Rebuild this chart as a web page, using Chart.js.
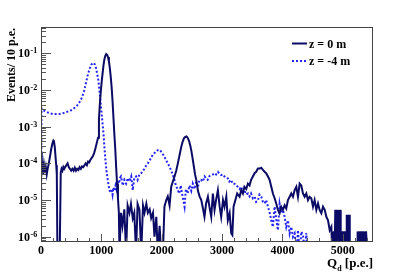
<!DOCTYPE html>
<html>
<head>
<meta charset="utf-8">
<script src="https://cdn.jsdelivr.net/npm/chart.js@4.4.0/dist/chart.umd.min.js"></script>
<style>
  html, body { margin: 0; padding: 0; background: #fff; }
  #wrap { width: 415px; height: 276px; }
</style>
</head>
<body>
<div id="wrap"><canvas id="qdChart" width="415" height="276"></canvas></div>
<script>
// ========== Data (Events / 10 p.e.) ==========
// z = 0 m
const solidQ = [
  0, 12, 25, 38, 50, 65, 80, 95, 110, 130,
  150, 170, 190, 205, 215, 228, 240, 252, 262, 272,
  290, 310, 327, 340, 355, 370, 385, 400, 420, 440,
  460, 480, 500, 520, 540, 560, 580, 600, 620, 640,
  660, 680, 700, 720, 740, 760, 780, 800, 820, 840,
  860, 880, 900, 920, 945, 960, 975, 990, 1005, 1020,
  1035, 1050, 1065, 1080, 1095, 1110, 1125, 1140, 1155, 1170,
  1185, 1200, 1215, 1230, 1245, 1260, 1275, 1290, 1300, 1325,
  1350, 1380, 1410, 1435, 1465, 1490, 1520, 1545, 1575, 1600,
  1630, 1660, 1690, 1715, 1745, 1770, 1800, 1825, 1855, 1880,
  1910, 1935, 1965, 1990, 2020, 2045, 2075, 2100, 2130, 2157,
  2185, 2212, 2240, 2267, 2295, 2323, 2345, 2367, 2390, 2410,
  2430, 2450, 2470, 2489, 2510, 2533, 2552, 2572, 2600, 2627,
  2655, 2680, 2708, 2735, 2765, 2790, 2820, 2847, 2875, 2900,
  2930, 2960, 2985, 3015, 3040, 3070, 3095, 3125, 3151, 3170,
  3190, 3220, 3250, 3290, 3317, 3345, 3370, 3400, 3428, 3455,
  3480, 3510, 3538, 3565, 3593, 3620, 3650, 3677, 3704, 3730,
  3760, 3787, 3815, 3842, 3870, 3897, 3925, 3953, 3980, 4008,
  4036, 4063, 4091, 4119, 4146, 4174, 4202, 4230, 4257, 4285,
  4312, 4340, 4367, 4395, 4423, 4450, 4478, 4506, 4533, 4561,
  4589, 4616, 4644, 4672, 4700, 4727, 4755, 4783, 4810, 4825,
  4835, 4845, 4855, 4865, 4875, 4885, 4895, 4905, 4915, 4925,
  4935, 4945, 4955, 4965, 4975, 4985, 4995, 5005, 5015, 5025,
  5035, 5045, 5055, 5065, 5075, 5085, 5095, 5105, 5115, 5150,
  5200, 5235, 5245, 5255, 5265, 5275, 5285, 5295, 5305, 5315,
  5325, 5335, 5345, 5355, 5365, 5375, 5385, 5395, 5405
];
const solidEvents = [
  2.0e-4, 6.3e-5, 1.12e-4, 5.0e-5, 8.9e-5, 5.6e-5, 7.9e-5, 5.0e-5, 7.1e-5, 1.0e-4,
  1.58e-4, 2.5e-4, 3.55e-4, 4.2e-4, 4.0e-4, 2.8e-4, 1.58e-4, 8.9e-5, 5.0e-5, 0,
  0, 0, 5.6e-5, 7.1e-5, 6.3e-5, 7.9e-5, 7.1e-5, 7.9e-5, 8.9e-5, 1.0e-4,
  7.9e-5, 7.1e-5, 6.3e-5, 7.1e-5, 6.3e-5, 7.6e-5, 6.3e-5, 7.1e-5, 6.6e-5, 7.9e-5,
  7.1e-5, 8.3e-5, 7.9e-5, 8.9e-5, 1.0e-4, 8.9e-5, 1.12e-4, 1.07e-4, 1.26e-4, 1.41e-4,
  1.58e-4, 1.91e-4, 2.5e-4, 3.4e-4, 5.0e-4, 1.58e-3, 4.2e-3, 8.9e-3, 1.66e-2, 2.8e-2,
  4.7e-2, 6.8e-2, 8.5e-2, 9.5e-2, 9.1e-2, 7.9e-2, 6.0e-2, 4.0e-2, 2.3e-2, 1.2e-2,
  5.0e-3, 1.78e-3, 6.3e-4, 2.5e-4, 7.9e-5, 2.8e-5, 1.12e-5, 4.5e-6, 0, 4.5e-6,
  2.0e-6, 5.6e-6, 0, 7.1e-6, 4.5e-6, 7.9e-6, 3.2e-6, 4.5e-6, 0, 7.9e-6,
  5.6e-6, 0, 7.1e-6, 4.5e-6, 7.9e-6, 4.5e-6, 5.6e-6, 3.2e-6, 4.5e-6, 1.0e-6,
  3.5e-6, 0, 2.0e-6, 0, 0, 6.6e-6, 1.0e-5, 1.26e-5, 7.1e-6, 2.3e-5,
  3.2e-5, 4.4e-5, 6.3e-5, 1.0e-4, 1.66e-4, 2.8e-4, 3.8e-4, 4.8e-4, 5.25e-4, 5.4e-4,
  5.0e-4, 4.2e-4, 3.2e-4, 2.3e-4, 1.41e-4, 8.1e-5, 5.0e-5, 3.55e-5, 1.78e-5, 1.26e-5,
  1.0e-5, 6.3e-6, 3.5e-6, 8.1e-6, 1.23e-5, 6.6e-6, 3.5e-6, 1.51e-5, 5.4e-6, 1.0e-5,
  1.86e-5, 6.6e-6, 3.5e-6, 1.0e-5, 6.6e-6, 1.23e-5, 2.8e-6, 4.4e-6, 1.26e-6, 1.12e-6,
  6.6e-6, 1.0e-5, 1.51e-5, 1.23e-5, 1.86e-5, 1.51e-5, 2.3e-5, 2.0e-5, 2.8e-5, 2.5e-5,
  3.55e-5, 4.4e-5, 5.4e-5, 5.9e-5, 7.2e-5, 7.2e-5, 7.6e-5, 6.6e-5, 5.9e-5, 5.4e-5,
  4.4e-5, 3.55e-5, 2.3e-5, 1.51e-5, 1.12e-5, 8.1e-6, 5.4e-6, 4.4e-6, 6.6e-6, 5.4e-6,
  7.2e-6, 5.9e-6, 1.0e-5, 1.23e-5, 1.51e-5, 1.23e-5, 1.86e-5, 2.3e-5, 1.23e-5, 2.8e-5,
  2.5e-5, 1.51e-5, 1.23e-5, 1.51e-5, 1.0e-5, 1.23e-5, 1.12e-5, 6.6e-6, 1.0e-5, 5.4e-6,
  8.1e-6, 5.4e-6, 4.4e-6, 6.6e-6, 5.4e-6, 3.5e-6, 2.8e-6, 1.51e-6, 1.86e-6, 0,
  1.4e-6, 0, 1.4e-6, 0, 5.4e-6, 0, 5.4e-6, 1.4e-6, 5.4e-6, 0,
  5.4e-6, 0, 5.4e-6, 0, 1.4e-6, 0, 0, 1.4e-6, 0, 1.4e-6,
  0, 1.4e-6, 0, 4.0e-6, 0, 4.0e-6, 1.4e-6, 4.0e-6, 0, 0,
  0, 0, 1.4e-6, 0, 1.4e-6, 0, 1.4e-6, 0, 1.4e-6, 0,
  1.4e-6, 0, 1.4e-6, 0, 1.4e-6, 0, 1.4e-6, 1.4e-6, 0
];

// z = -4 m
const dottedQ = [
  0, 8, 30, 60, 100, 150, 200, 250, 300, 350,
  400, 450, 500, 550, 600, 640, 680, 710, 740, 770,
  800, 830, 850, 870, 890, 910, 930, 950, 970, 990,
  1010, 1035, 1050, 1067, 1085, 1105, 1120, 1135, 1155, 1170,
  1185, 1200, 1215, 1235, 1250, 1270, 1290, 1310, 1325, 1355,
  1380, 1410, 1440, 1465, 1495, 1520, 1545, 1575, 1600, 1630,
  1660, 1690, 1715, 1745, 1770, 1800, 1825, 1850, 1880, 1910,
  1935, 1963, 1990, 2020, 2046, 2075, 2100, 2130, 2157, 2185,
  2210, 2235, 2260, 2290, 2315, 2345, 2378, 2400, 2430, 2460,
  2490, 2515, 2545, 2572, 2600, 2625, 2650, 2680, 2710, 2740,
  2760, 2790, 2820, 2850, 2875, 2900, 2930, 2960, 2985, 3010,
  3040, 3065, 3095, 3120, 3150, 3175, 3205, 3230, 3260, 3290,
  3317, 3345, 3370, 3400, 3430, 3455, 3480, 3510, 3540, 3565,
  3595, 3620, 3650, 3677, 3704, 3730, 3760, 3790, 3815, 3842,
  3870, 3900, 3925, 3953, 3980, 4008, 4036, 4063, 4091, 4119,
  4146, 4174, 4202, 4230, 4257, 4285, 4312, 4340, 4367, 4395,
  4420
];
const dottedEvents = [
  0, 3.2e-3, 2.8e-3, 2.7e-3, 2.5e-3, 2.3e-3, 2.2e-3, 2.2e-3, 2.2e-3, 2.3e-3,
  2.4e-3, 2.6e-3, 2.8e-3, 3.2e-3, 3.8e-3, 4.7e-3, 6.3e-3, 8.9e-3, 1.41e-2, 2.4e-2,
  3.55e-2, 4.8e-2, 5.25e-2, 5.5e-2, 5.0e-2, 4.0e-2, 2.8e-2, 1.86e-2, 8.9e-3, 4.0e-3,
  1.78e-3, 6.6e-4, 2.8e-4, 1.26e-4, 6.3e-5, 3.55e-5, 2.5e-5, 1.86e-5, 1.58e-5, 2.0e-5,
  1.41e-5, 2.2e-5, 1.78e-5, 2.5e-5, 2.0e-5, 3.2e-5, 2.8e-5, 4.0e-5, 4.4e-5, 2.5e-5,
  3.55e-5, 2.8e-5, 4.0e-5, 3.2e-5, 4.4e-5, 1.86e-5, 4.0e-5, 4.4e-5, 3.55e-5, 5.0e-5,
  5.4e-5, 6.3e-5, 7.1e-5, 8.9e-5, 1.0e-4, 1.2e-4, 1.41e-4, 1.7e-4, 1.91e-4, 2.1e-4,
  2.3e-4, 2.35e-4, 2.1e-4, 1.78e-4, 1.51e-4, 1.2e-4, 1.0e-4, 8.1e-5, 6.3e-5, 4.8e-5,
  3.55e-5, 2.5e-5, 2.0e-5, 1.51e-5, 2.5e-5, 1.26e-5, 6.6e-6, 2.0e-5, 1.51e-5, 2.5e-5,
  1.78e-5, 2.8e-5, 2.0e-5, 3.2e-5, 2.3e-5, 3.55e-5, 3.55e-5, 3.2e-5, 4.4e-5, 3.8e-5,
  3.55e-5, 4.5e-5, 4.8e-5, 5.0e-5, 5.4e-5, 5.0e-5, 5.9e-5, 5.25e-5, 4.8e-5, 5.0e-5,
  4.4e-5, 4.0e-5, 3.9e-5, 3.2e-5, 3.55e-5, 2.8e-5, 2.8e-5, 2.5e-5, 2.3e-5, 2.0e-5,
  2.3e-5, 1.66e-5, 1.86e-5, 1.41e-5, 1.51e-5, 1.26e-5, 1.51e-5, 1.12e-5, 1.23e-5, 8.9e-6,
  1.0e-5, 1.41e-5, 1.23e-5, 8.9e-6, 8.1e-6, 1.0e-5, 6.6e-6, 4.4e-6, 2.8e-6, 1.86e-6,
  6.6e-6, 2.8e-6, 1.51e-6, 7.9e-6, 4.4e-6, 5.4e-6, 3.5e-6, 1.86e-6, 2.8e-6, 1.23e-6,
  1.86e-6, 1.0e-6, 1.23e-6, 0, 1.51e-6, 0, 1.38e-6, 1.12e-6, 0, 1.26e-6,
  0
];

const seriesNames = ["z = 0 m", "z = -4 m"];
const seriesColors = ["#0b0b66", "#2424f5"];

// axis ticks
const xMajor = [0, 1000, 2000, 3000, 4000, 5000];
const yDecades = [-6, -5, -4, -3, -2, -1];
const xMin = 0, xMax = 5500;
const yMin = 7.2e-7, yMax = 0.52;

// ========== Helpers ==========
// empty bins go to the bottom edge of the frame (log axis can't show 0)
function qdPoints(qs, vals) {
  return qs.map((q, i) => ({ x: q, y: vals[i] > 0 ? vals[i] : yMin * 0.5 }));
}

const SERIF = '"Liberation Serif", "Times New Roman", serif';

// ROOT-like frame, inward ticks, labels, titles and legend
const qdRootFrame = {
  id: "qdRootFrame",
  afterDraw(chart) {
    const { ctx, chartArea: a, scales: { x, y } } = chart;
    ctx.save();

    // ticks
    ctx.strokeStyle = "#555";
    ctx.lineWidth = 1;
    ctx.beginPath();
    for (let v = xMin; v <= xMax; v += 200) {
      const px = Math.round(x.getPixelForValue(v)) + 0.5;
      const len = v % 1000 === 0 ? 8 : 4;
      ctx.moveTo(px, a.bottom);
      ctx.lineTo(px, a.bottom - len);
    }
    for (let d = -7; d <= 0; d++) {
      for (let m = 1; m <= 9; m++) {
        const v = m * Math.pow(10, d);
        if (v < yMin || v > yMax) continue;
        const py = Math.round(y.getPixelForValue(v)) + 0.5;
        const len = m === 1 ? 10 : 5;
        ctx.moveTo(a.left, py);
        ctx.lineTo(a.left + len, py);
      }
    }
    ctx.stroke();

    // frame
    ctx.strokeStyle = "#444";
    ctx.strokeRect(a.left + 0.5, a.top + 0.5, a.right - a.left - 1, a.bottom - a.top - 1);

    // x labels
    ctx.fillStyle = "#000";
    ctx.font = "bold 12px " + SERIF;
    ctx.textAlign = "center";
    ctx.textBaseline = "alphabetic";
    xMajor.forEach(v => ctx.fillText(String(v), x.getPixelForValue(v), 254));

    // y labels 10^n
    yDecades.forEach(d => {
      const py = y.getPixelForValue(Math.pow(10, d));
      ctx.font = "bold 12px " + SERIF;
      ctx.textAlign = "right";
      ctx.fillText("10", 30, py + 4);
      ctx.font = "bold 8px " + SERIF;
      ctx.textAlign = "left";
      ctx.fillText(String(d), 30.5, py);
    });

    // x title: Q_d [p.e.]
    ctx.font = "bold 13px " + SERIF;
    const wQ = ctx.measureText("Q").width;
    const wRest = ctx.measureText(" [p.e.]").width;
    ctx.font = "bold 8px " + SERIF;
    const wSub = ctx.measureText("d").width;
    const tx = a.right - (wQ + wSub + wRest);
    ctx.textAlign = "left";
    ctx.font = "bold 13px " + SERIF;
    ctx.fillText("Q", tx, 267);
    ctx.font = "bold 8px " + SERIF;
    ctx.fillText("d", tx + wQ, 271);
    ctx.font = "bold 13px " + SERIF;
    ctx.fillText(" [p.e.]", tx + wQ + wSub, 267);

    // y title
    ctx.save();
    ctx.translate(14.5, a.top);
    ctx.rotate(-Math.PI / 2);
    ctx.font = "bold 12px " + SERIF;
    ctx.textAlign = "right";
    ctx.fillText("Events/ 10 p.e.", -1, 0);
    ctx.restore();

    // legend
    const legendY = [43.5, 61];
    seriesNames.forEach((name, i) => {
      ctx.beginPath();
      ctx.strokeStyle = seriesColors[i];
      ctx.lineWidth = 2;
      ctx.setLineDash(i === 0 ? [] : [2, 2]);
      ctx.moveTo(292, legendY[i]);
      ctx.lineTo(307, legendY[i]);
      ctx.stroke();
      ctx.setLineDash([]);
      ctx.fillStyle = "#000";
      ctx.font = "bold 12px " + SERIF;
      ctx.textAlign = "left";
      ctx.fillText(name, 309, legendY[i] + 4);
    });

    ctx.restore();
  }
};

// ========== Chart ==========
new Chart(document.getElementById("qdChart").getContext("2d"), {
  type: "line",
  data: {
    datasets: [
      {
        label: seriesNames[0],
        data: qdPoints(solidQ, solidEvents),
        borderColor: seriesColors[0],
        borderWidth: 2,
        pointRadius: 0,
        tension: 0,
        fill: false,
        clip: 0
      },
      {
        label: seriesNames[1],
        data: qdPoints(dottedQ, dottedEvents),
        borderColor: seriesColors[1],
        borderWidth: 2,
        borderDash: [2, 2],
        pointRadius: 0,
        tension: 0,
        fill: false,
        clip: 0
      }
    ]
  },
  options: {
    responsive: false,
    animation: false,
    devicePixelRatio: 1,
    layout: { padding: { top: 27, right: 42, left: 0, bottom: 0 } },
    plugins: {
      legend: { display: false },
      tooltip: { enabled: false }
    },
    scales: {
      x: {
        type: "linear",
        min: xMin,
        max: xMax,
        grid: { display: false },
        border: { display: false },
        ticks: { display: false },
        afterFit: s => { s.height = 34; }
      },
      y: {
        type: "logarithmic",
        min: yMin,
        max: yMax,
        grid: { display: false },
        border: { display: false },
        ticks: { display: false },
        afterFit: s => { s.width = 41; }
      }
    }
  },
  plugins: [qdRootFrame]
});
</script>
</body>
</html>
